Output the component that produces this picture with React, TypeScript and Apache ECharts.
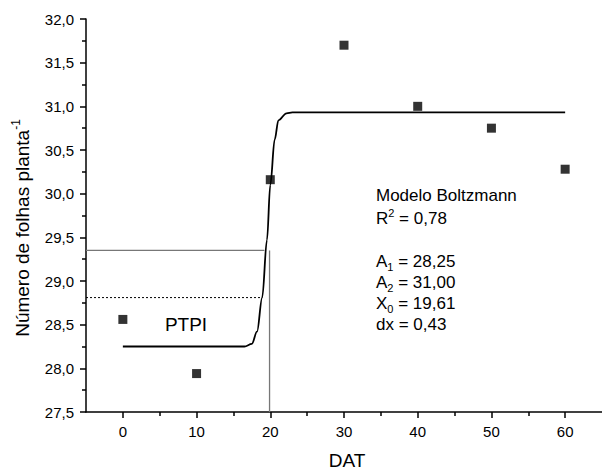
import React, { useEffect, useRef } from 'react';
import * as echarts from 'echarts';

// Observed data (DAT = days after transplanting)
const dayValues = [0, 10, 20, 30, 40, 50, 60];
const leafValues = [28.56, 27.94, 30.16, 31.7, 31.0, 30.75, 30.28];

// Fitted Boltzmann curve as drawn
const curveX = [0, 16.5, 17.5, 18.2, 18.9, 19.55, 20.0, 20.6, 21.1, 22.2, 23.0, 60];
const curveY = [28.25, 28.25, 28.28, 28.42, 28.81, 29.47, 30.1, 30.62, 30.84, 30.92, 30.93, 30.93];

// Axis ticks
const xTickValues = [0, 10, 20, 30, 40, 50, 60];
const xMinorTickValues = [5, 15, 25, 35, 45, 55];

// PTPI guide lines
const xAxisMin = -5;
const yAxisMin = 27.5;
const ptpiLevel = 29.35;
const ptpiDay = 19.9;
const ptpiLineEnd = 19.2;
const dottedLevel = 28.81;
const dottedLineEnd = 18.9;

// Model annotation texts
const modelLines = [
  'Modelo Boltzmann',
  'R{sup|2} = 0,78',
  'A{sub|1} = 28,25',
  'A{sub|2} = 31,00',
  'X{sub|0} = 19,61',
  'dx = 0,43',
];
const modelLineY = [195, 218, 261, 282, 303, 324];

const FONT = '"Liberation Sans", Arial, Helvetica, sans-serif';

export default function App() {
  const ref = useRef<HTMLDivElement>(null);

  useEffect(() => {
    if (!ref.current) return;
    const chart = echarts.init(ref.current, undefined, { renderer: 'svg' });

    const richStyles = {
      sup: { fontSize: 11, fontFamily: FONT, fill: '#000', verticalAlign: 'top' },
      sub: { fontSize: 11, fontFamily: FONT, fill: '#000', verticalAlign: 'bottom' },
    };

    const graphics: any[] = modelLines.map((t, i) => ({
      type: 'text',
      x: 376,
      y: modelLineY[i],
      style: {
        text: t,
        fontSize: 17,
        fontFamily: FONT,
        fill: '#000',
        align: 'left',
        verticalAlign: 'middle',
        lineHeight: 22,
        rich: richStyles,
      },
    }));

    graphics.push({
      type: 'text',
      x: 186,
      y: 324,
      style: {
        text: 'PTPI',
        fontSize: 19,
        fontFamily: FONT,
        fill: '#000',
        align: 'center',
        verticalAlign: 'middle',
      },
    });

    graphics.push({
      type: 'text',
      x: 347,
      y: 460,
      style: {
        text: 'DAT',
        fontSize: 19,
        fontFamily: FONT,
        fill: '#000',
        align: 'center',
        verticalAlign: 'middle',
      },
    });

    graphics.push({
      type: 'text',
      x: 22,
      y: 228,
      rotation: Math.PI / 2,
      style: {
        text: 'Número de folhas planta{sup|-1}',
        fontSize: 19,
        fontFamily: FONT,
        fill: '#000',
        align: 'center',
        verticalAlign: 'middle',
        lineHeight: 24,
        rich: { sup: { fontSize: 12, fontFamily: FONT, fill: '#000', verticalAlign: 'top' } },
      },
    });

    const fmt = (v: number) => v.toFixed(1).replace('.', ',');

    chart.setOption({
      animation: false,
      backgroundColor: '#fff',
      grid: { left: 86, top: 19, width: 520, height: 393, containLabel: false },
      xAxis: [
        {
          type: 'value',
          min: xAxisMin,
          max: 65,
          position: 'bottom',
          axisLine: { show: true, onZero: false, lineStyle: { color: '#000', width: 1.5 } },
          axisTick: { show: true, customValues: xTickValues, length: 6, lineStyle: { color: '#000', width: 1.5 } },
          axisLabel: {
            customValues: xTickValues,
            fontSize: 15,
            fontFamily: FONT,
            color: '#000',
            margin: 12,
          },
          splitLine: { show: false },
        },
        {
          type: 'value',
          min: xAxisMin,
          max: 65,
          position: 'bottom',
          axisLine: { show: false },
          axisTick: { show: true, customValues: xMinorTickValues, length: 4, lineStyle: { color: '#000', width: 1.5 } },
          axisLabel: { show: false },
          splitLine: { show: false },
        },
      ],
      yAxis: {
        type: 'value',
        min: yAxisMin,
        max: 32,
        interval: 0.5,
        axisLine: { show: true, onZero: false, lineStyle: { color: '#000', width: 1.5 } },
        axisTick: { show: true, length: 6, lineStyle: { color: '#000', width: 1.5 } },
        minorTick: { show: true, splitNumber: 2, length: 4, lineStyle: { color: '#000', width: 1.5 } },
        axisLabel: {
          formatter: fmt,
          fontSize: 15,
          fontFamily: FONT,
          color: '#000',
          margin: 12,
        },
        splitLine: { show: false },
        minorSplitLine: { show: false },
      },
      series: [
        {
          type: 'line',
          name: 'ptpi-h',
          data: [
            [xAxisMin, ptpiLevel],
            [ptpiLineEnd, ptpiLevel],
          ],
          symbol: 'none',
          lineStyle: { color: '#777', width: 1.3 },
          silent: true,
          z: 1,
        },
        {
          type: 'line',
          name: 'ptpi-v',
          data: [
            [ptpiDay, yAxisMin],
            [ptpiDay, ptpiLevel],
          ],
          symbol: 'none',
          lineStyle: { color: '#777', width: 1.3 },
          silent: true,
          z: 1,
        },
        {
          type: 'line',
          name: 'dotted',
          data: [
            [xAxisMin, dottedLevel],
            [dottedLineEnd, dottedLevel],
          ],
          symbol: 'none',
          lineStyle: { color: '#000', width: 1, type: [2, 2] },
          silent: true,
          z: 1,
        },
        {
          type: 'line',
          name: 'Boltzmann',
          data: curveX.map((x, i) => [x, curveY[i]]),
          symbol: 'none',
          smooth: 0.35,
          smoothMonotone: 'x',
          lineStyle: { color: '#000', width: 1.8 },
          z: 2,
        },
        {
          type: 'scatter',
          name: 'Observado',
          data: dayValues.map((x, i) => [x, leafValues[i]]),
          symbol: 'rect',
          symbolSize: 9,
          itemStyle: { color: '#000' },
          z: 3,
        },
      ],
      graphic: graphics,
    });

    return () => chart.dispose();
  }, []);

  return (
    <div
      ref={ref}
      style={{ position: 'fixed', left: 0, top: 0, width: 602, height: 473, background: '#fff' }}
    />
  );
}
